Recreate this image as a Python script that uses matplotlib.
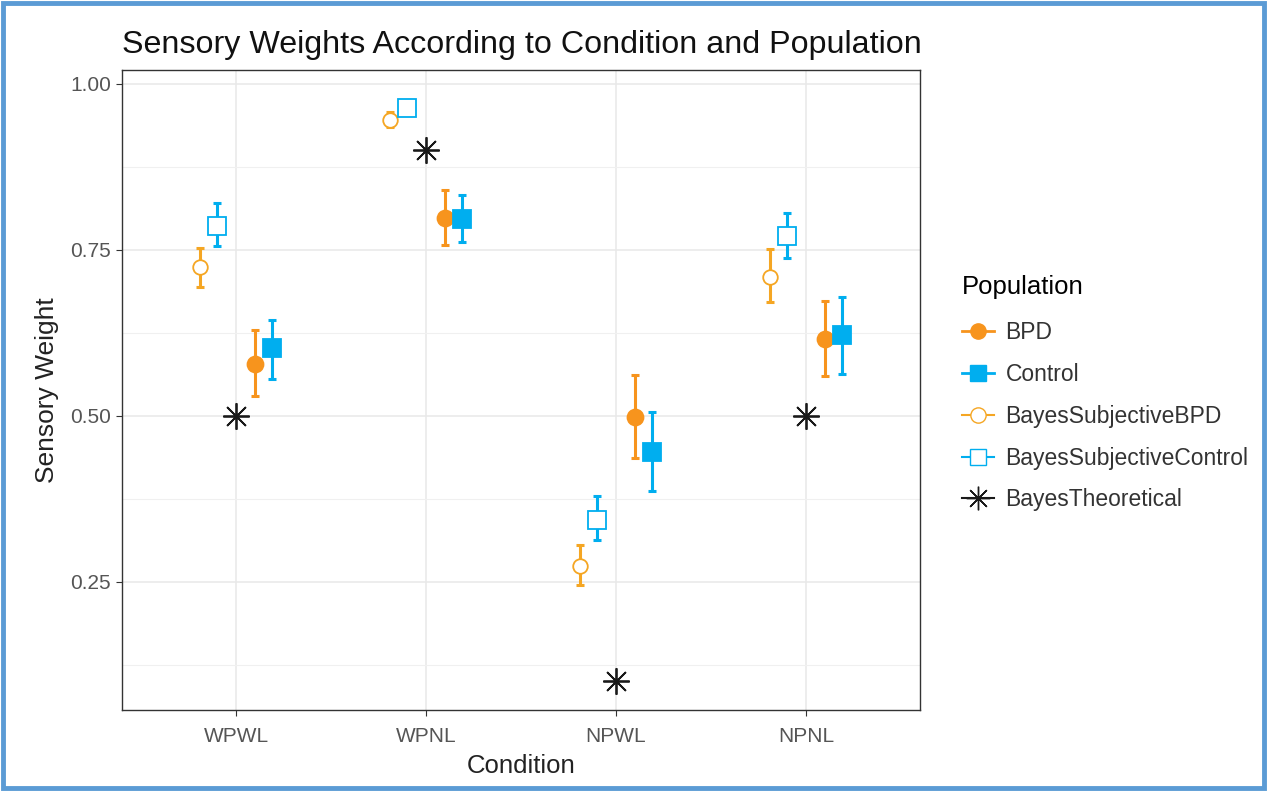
import matplotlib.pyplot as plt
import matplotlib.patches as mpatches
from matplotlib.lines import Line2D
import numpy as np

plt.rcParams["font.family"] = ["Liberation Sans", "DejaVu Sans"]

conditions = ["WPWL", "WPNL", "NPWL", "NPNL"]

# mean, lower, upper for each series
bpd = [0.578, 0.798, 0.498, 0.616]
bpd_lo = [0.530, 0.758, 0.437, 0.560]
bpd_hi = [0.630, 0.840, 0.562, 0.673]

control = [0.602, 0.797, 0.446, 0.622]
control_lo = [0.556, 0.762, 0.387, 0.563]
control_hi = [0.645, 0.833, 0.506, 0.679]

subj_bpd = [0.724, 0.946, 0.274, 0.709]
subj_bpd_lo = [0.694, 0.935, 0.245, 0.672]
subj_bpd_hi = [0.753, 0.958, 0.306, 0.751]

subj_control = [0.786, 0.964, 0.343, 0.771]
subj_control_lo = [0.756, 0.954, 0.313, 0.738]
subj_control_hi = [0.821, 0.974, 0.380, 0.806]

theoretical = [0.50, 0.90, 0.10, 0.50]

ORANGE = "#F7941D"
ORANGE_L = "#F5A623"
BLUE = "#00AEEF"

fig = plt.figure(figsize=(12.67, 7.91), dpi=100)
ax = fig.add_axes([122 / 1267, 1 - 710 / 791, 798 / 1267, 640 / 791])

x = np.arange(1, len(conditions) + 1)


def pointrange(vals, lo, hi, off, color, marker, mfc, ms, mew=1.3):
    vals, lo, hi = np.array(vals), np.array(lo), np.array(hi)
    ax.errorbar(x + off, vals, yerr=[vals - lo, hi - vals], fmt="none",
                ecolor=color, elinewidth=2.2, capsize=3, capthick=2.2, zorder=3)
    ax.plot(x + off, vals, linestyle="none", marker=marker, ms=ms,
            mfc=mfc, mec=color, mew=mew, zorder=4)


pointrange(subj_bpd, subj_bpd_lo, subj_bpd_hi, -0.19, ORANGE_L, "o", "white", 10.5)
pointrange(subj_control, subj_control_lo, subj_control_hi, -0.10, BLUE, "s", "white", 13)
pointrange(bpd, bpd_lo, bpd_hi, 0.10, ORANGE, "o", ORANGE, 11.5)
pointrange(control, control_lo, control_hi, 0.19, BLUE, "s", BLUE, 12.5)
ax.plot(x, theoretical, linestyle="none", marker=(8, 2, 0), ms=19,
        mec="#1a1a1a", mew=1.3, zorder=4)

ax.set_xlim(0.4, 4.6)
ax.set_ylim(0.057, 1.021)
ax.set_xticks(x)
ax.set_xticklabels(conditions)
ax.set_yticks([0.25, 0.50, 0.75, 1.00])
ax.set_yticklabels(["0.25", "0.50", "0.75", "1.00"])
ax.set_yticks([0.125, 0.375, 0.625, 0.875], minor=True)
ax.grid(True, which="major", color="#E8E8E8", linewidth=1.1)
ax.grid(True, which="minor", axis="y", color="#F0F0F0", linewidth=0.8)
ax.set_axisbelow(True)
ax.tick_params(axis="both", which="major", length=4, color="#333333",
               labelsize=15, labelcolor="#555555")
ax.tick_params(axis="x", which="major", pad=8)
ax.tick_params(axis="y", which="major", pad=4)
ax.tick_params(axis="y", which="minor", length=0)
for sp in ax.spines.values():
    sp.set_color("#333333")
    sp.set_linewidth(1.0)

ax.set_xlabel("Condition", fontsize=18.5, color="#222222", labelpad=6)
ax.set_ylabel("Sensory Weight", fontsize=19, color="#222222", labelpad=8)

fig.text(122 / 1267, 1 - 45 / 791, "Sensory Weights According to Condition and Population",
         fontsize=23.2, color="#111111", va="center", ha="left")

handles = [
    Line2D([], [], color=ORANGE, lw=2, marker="o", ms=11, mfc=ORANGE, mec=ORANGE),
    Line2D([], [], color=BLUE, lw=2, marker="s", ms=11, mfc=BLUE, mec=BLUE),
    Line2D([], [], color=ORANGE_L, lw=1.5, marker="o", ms=11, mfc="white", mec=ORANGE_L),
    Line2D([], [], color=BLUE, lw=1.5, marker="s", ms=11, mfc="white", mec=BLUE),
    Line2D([], [], color="#1a1a1a", lw=1.5, marker=(8, 2, 0), ms=17, mec="#1a1a1a"),
]
labels = ["BPD", "Control", "BayesSubjectiveBPD", "BayesSubjectiveControl", "BayesTheoretical"]
leg = fig.legend(handles, labels, title="Population", loc="upper left",
                 bbox_to_anchor=(962 / 1267, 1 - 275 / 791), frameon=False,
                 fontsize=16.5, title_fontsize=18.5, handlelength=1.4,
                 labelspacing=0.82, handletextpad=0.5, borderaxespad=0,
                 borderpad=0)
leg._legend_box.align = "left"
leg._legend_box.sep = 16
for t in leg.get_texts():
    t.set_color("#333333")

border = mpatches.Rectangle((3 / 1267, 3 / 791), 1 - 6 / 1267, 1 - 6 / 791,
                            transform=fig.transFigure, fill=False,
                            edgecolor="#5B9BD5", linewidth=3.5)
fig.patches.append(border)

fig.savefig("out.png", dpi=100)
